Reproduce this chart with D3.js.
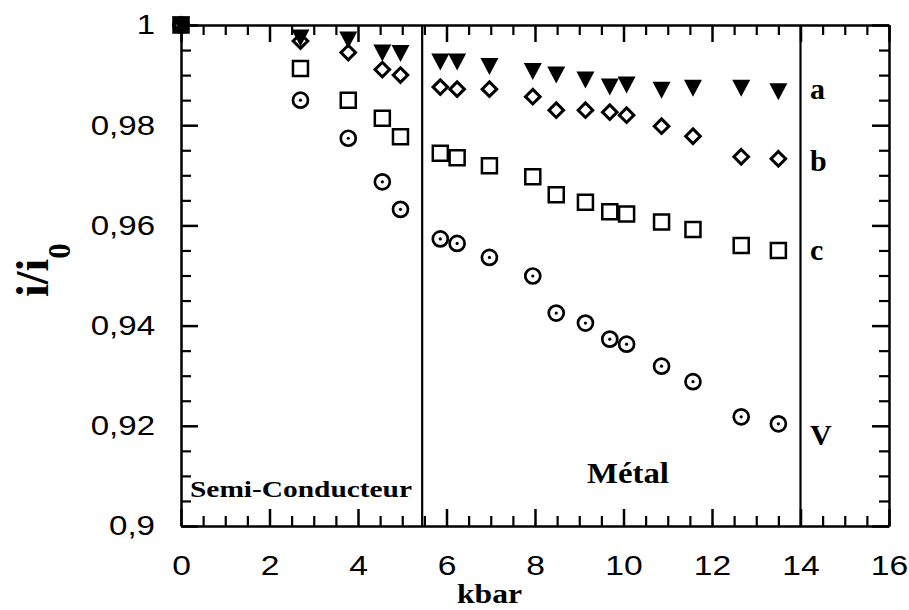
<!DOCTYPE html>
<html>
<head>
<meta charset="utf-8">
<script src="https://cdn.jsdelivr.net/npm/d3@7"></script>
<style>
  body { margin: 0; background: #fff; }
  svg { display: block; }
</style>
</head>
<body>
<svg id="chart" width="909" height="610"></svg>
<script>
// Pressure (kbar) at which each measurement was taken
const pressure = [0, 2.7, 3.78, 4.55, 4.96, 5.86, 6.24, 6.97, 7.95, 8.48, 9.14, 9.69, 10.07, 10.86, 11.57, 12.66, 13.5];

// Normalised intensity i/i0 for each series
const seriesA = [1, 0.9974, 0.9970, 0.9944, 0.9943, 0.9926, 0.9926, 0.9917, 0.9907, 0.9900, 0.9890, 0.9876, 0.9880, 0.9870, 0.9874, 0.9874, 0.9867];
const seriesB = [1, 0.9968, 0.9945, 0.9911, 0.9900, 0.9876, 0.9872, 0.9872, 0.9857, 0.9830, 0.9830, 0.9826, 0.9820, 0.9798, 0.9778, 0.9737, 0.9733];
const seriesC = [1, 0.9913, 0.9850, 0.9814, 0.9777, 0.9744, 0.9735, 0.9719, 0.9697, 0.9661, 0.9646, 0.9627, 0.9623, 0.9607, 0.9592, 0.9560, 0.9550];
const seriesV = [1, 0.9850, 0.9774, 0.9687, 0.9632, 0.9573, 0.9564, 0.9536, 0.9499, 0.9425, 0.9405, 0.9373, 0.9363, 0.9319, 0.9288, 0.9218, 0.9204];
const seriesNames = ["a", "b", "c", "V"];

// Axis ticks
const xTicks = [0, 2, 4, 6, 8, 10, 12, 14, 16];
const xTickLabels = ["0", "2", "4", "6", "8", "10", "12", "14", "16"];
const yTicks = [0.9, 0.92, 0.94, 0.96, 0.98, 1];
const yTickLabels = ["0,9", "0,92", "0,94", "0,96", "0,98", "1"];

// Phase boundaries (kbar) and region names
const phaseBoundaries = [5.45, 14];
const phaseNames = ["Semi-Conducteur", "Métal"];

const svg = d3.select("#chart");
const x = d3.scaleLinear().domain([0, 16]).range([181, 889]);
const y = d3.scaleLinear().domain([0.9, 1]).range([526, 25]);

const xMinor = d3.range(0, 33).map(i => i / 2).filter(v => v % 2 !== 0);
const yMinor = d3.range(0, 21).filter(i => i % 4 !== 0).map(i => 0.9 + i * 0.005);

function stretch(sel, k) {
  sel.each(function () {
    const w = this.getComputedTextLength();
    d3.select(this).attr("textLength", w * k).attr("lengthAdjust", "spacingAndGlyphs");
  });
}

function styleAxis(g, width) {
  g.select(".domain").attr("stroke", "#000").attr("stroke-width", 2.5);
  g.selectAll(".tick line").attr("stroke", "#000").attr("stroke-width", width);
  g.selectAll(".tick text")
    .attr("fill", "#000")
    .style("font-family", "'Liberation Sans', Arial, sans-serif")
    .style("font-size", "28px");
}

// Major ticks on all four sides, pointing inward
const gBottom = svg.append("g").attr("transform", "translate(0,526)")
  .call(d3.axisBottom(x).tickValues(xTicks).tickFormat((d, i) => xTickLabels[i])
    .tickSizeInner(-17).tickSizeOuter(0).tickPadding(29));
styleAxis(gBottom, 2.5);
stretch(gBottom.selectAll(".tick text"), 1.2);

const gTop = svg.append("g").attr("transform", "translate(0,25)")
  .call(d3.axisTop(x).tickValues(xTicks).tickFormat("").tickSizeInner(-17).tickSizeOuter(0));
styleAxis(gTop, 2.5);

const gLeft = svg.append("g").attr("transform", "translate(181,0)")
  .call(d3.axisLeft(y).tickValues(yTicks).tickFormat((d, i) => yTickLabels[i])
    .tickSizeInner(-17).tickSizeOuter(0).tickPadding(26));
styleAxis(gLeft, 2.5);
stretch(gLeft.selectAll(".tick text"), 1.18);

const gRight = svg.append("g").attr("transform", "translate(889,0)")
  .call(d3.axisRight(y).tickValues(yTicks).tickFormat("").tickSizeInner(-17).tickSizeOuter(0));
styleAxis(gRight, 2.5);

// Minor ticks
[[d3.axisBottom(x).tickValues(xMinor), "translate(0,526)"],
 [d3.axisTop(x).tickValues(xMinor), "translate(0,25)"],
 [d3.axisLeft(y).tickValues(yMinor), "translate(181,0)"],
 [d3.axisRight(y).tickValues(yMinor), "translate(889,0)"]].forEach(([ax, tr]) => {
  const g = svg.append("g").attr("transform", tr)
    .call(ax.tickFormat("").tickSizeInner(-10).tickSizeOuter(0));
  g.select(".domain").remove();
  g.selectAll(".tick line").attr("stroke", "#000").attr("stroke-width", 2.2);
});

// Phase boundary lines
svg.append("g").selectAll("line").data(phaseBoundaries).join("line")
  .attr("x1", d => x(d)).attr("x2", d => x(d))
  .attr("y1", y(0.9)).attr("y2", y(1))
  .attr("stroke", "#000").attr("stroke-width", 2.2);

// Marker shapes
const triDown = { draw(ctx, size) { const w = 9, h = 8.5; ctx.moveTo(-w, -h); ctx.lineTo(w, -h); ctx.lineTo(0, h); ctx.closePath(); } };
const diamond = { draw(ctx, size) { const r = 7.3; ctx.moveTo(0, -r); ctx.lineTo(r, 0); ctx.lineTo(0, r); ctx.lineTo(-r, 0); ctx.closePath(); } };
const square = { draw(ctx, size) { const s = 7.5; ctx.moveTo(-s, -s); ctx.lineTo(s, -s); ctx.lineTo(s, s); ctx.lineTo(-s, s); ctx.closePath(); } };

const pts = vals => vals.map((v, i) => ({ p: pressure[i], v }));

// V: circles with a centre dot
const gV = svg.append("g");
gV.selectAll("circle.ring").data(pts(seriesV)).join("circle").attr("class", "ring")
  .attr("cx", d => x(d.p)).attr("cy", d => y(d.v)).attr("r", 7.5)
  .attr("fill", "none").attr("stroke", "#000").attr("stroke-width", 2.7);
gV.selectAll("circle.dot").data(pts(seriesV)).join("circle").attr("class", "dot")
  .attr("cx", d => x(d.p)).attr("cy", d => y(d.v)).attr("r", 1.6).attr("fill", "#000");

// c: open squares
svg.append("g").selectAll("path").data(pts(seriesC)).join("path")
  .attr("d", d3.symbol().type(square))
  .attr("transform", d => `translate(${x(d.p)},${y(d.v)})`)
  .attr("fill", "none").attr("stroke", "#000").attr("stroke-width", 2.5);

// b: open diamonds
svg.append("g").selectAll("path").data(pts(seriesB)).join("path")
  .attr("d", d3.symbol().type(diamond))
  .attr("transform", d => `translate(${x(d.p)},${y(d.v)})`)
  .attr("fill", "none").attr("stroke", "#000").attr("stroke-width", 3);

// a: filled downward triangles
svg.append("g").selectAll("path").data(pts(seriesA)).join("path")
  .attr("d", d3.symbol().type(triDown))
  .attr("transform", d => `translate(${x(d.p)},${y(d.v)})`)
  .attr("fill", "#000");

const serif = "'Liberation Serif', 'Times New Roman', serif";

// Series names at the right of the metal region
const nameY = [99, 171, 260, 445];
svg.append("g").selectAll("text").data(seriesNames).join("text")
  .attr("x", 810).attr("y", (d, i) => nameY[i])
  .style("font-family", serif).style("font-weight", "bold").style("font-size", "30px")
  .text(d => d);

// Phase names
svg.append("text").attr("x", 190).attr("y", 497)
  .style("font-family", serif).style("font-weight", "bold").style("font-size", "24px")
  .attr("textLength", 222).attr("lengthAdjust", "spacingAndGlyphs")
  .text(phaseNames[0]);
svg.append("text").attr("x", 587).attr("y", 483)
  .style("font-family", serif).style("font-weight", "bold").style("font-size", "30px")
  .attr("textLength", 82).attr("lengthAdjust", "spacingAndGlyphs")
  .text(phaseNames[1]);

// Axis titles
svg.append("text").attr("x", 457).attr("y", 603)
  .style("font-family", serif).style("font-weight", "bold").style("font-size", "27px")
  .attr("textLength", 65).attr("lengthAdjust", "spacingAndGlyphs")
  .text("kbar");

const yTitle = svg.append("text").attr("transform", "translate(48,297) rotate(-90)")
  .style("font-family", serif).style("font-weight", "bold").style("font-size", "46px");
yTitle.append("tspan").text("i/i");
yTitle.append("tspan").attr("dy", 22).style("font-size", "31px").text("0");
</script>
</body>
</html>
